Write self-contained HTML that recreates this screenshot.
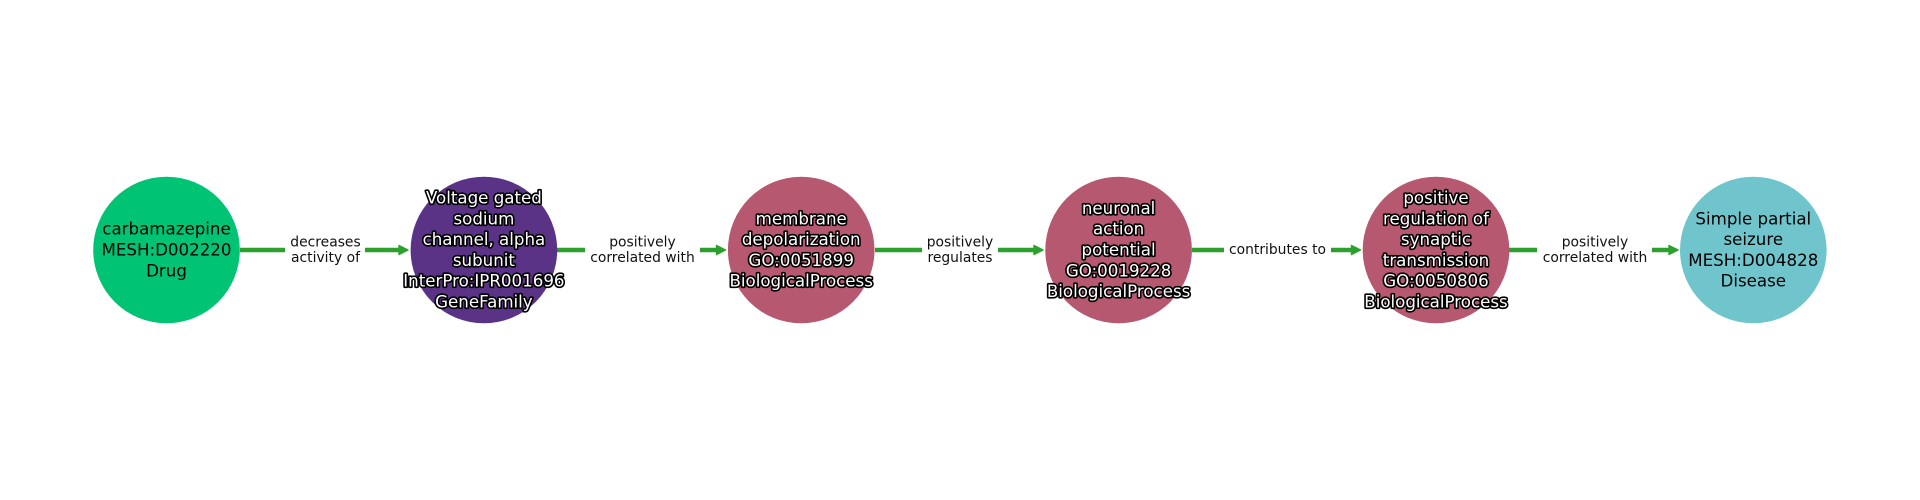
<!DOCTYPE html>
<html><head><meta charset="utf-8"><style>
html,body{margin:0;padding:0;background:#fff;width:1920px;height:500px;overflow:hidden}
svg{display:block}
text{font-family:"DejaVu Sans",sans-serif;text-anchor:middle}
.n{font-size:16.67px;fill:#000}
.o{font-size:16.67px;fill:#fff;stroke:#000;stroke-width:3.3px;paint-order:stroke;stroke-linejoin:round}
.e{font-size:13.89px;fill:#111}
.l{stroke:#2ca02c;stroke-width:4.4;fill:none}
.a{fill:#2ca02c;stroke:#2ca02c;stroke-width:1.4;stroke-linejoin:round}
</style></head><body>
<svg width="1920" height="500" viewBox="0 0 1920 500" xmlns="http://www.w3.org/2000/svg">
<rect width="1920" height="500" fill="#fff"/>
<path class="l" d="M240 250H285M365 250H400"/><path class="a" d="M399 245.5L408 250L399 254.5Z"/>
<path class="l" d="M557 250H585M700 250H717"/><path class="a" d="M716.5 245.5L725.5 250L716.5 254.5Z"/>
<path class="l" d="M875 250H922M998 250H1035"/><path class="a" d="M1034 245.5L1043 250L1034 254.5Z"/>
<path class="l" d="M1192 250H1224M1331 250H1352"/><path class="a" d="M1351.5 245.5L1360.5 250L1351.5 254.5Z"/>
<path class="l" d="M1509 250H1537M1652 250H1670"/><path class="a" d="M1669 245.5L1678 250L1669 254.5Z"/>
<circle cx="166.5" cy="250" r="73.3" fill="#00c473"/>
<circle cx="483.9" cy="250" r="73.3" fill="#5a3286"/>
<circle cx="801.2" cy="250" r="73.3" fill="#b65870"/>
<circle cx="1118.6" cy="250" r="73.3" fill="#b65870"/>
<circle cx="1436" cy="250" r="73.3" fill="#b65870"/>
<circle cx="1753.3" cy="250" r="73.3" fill="#70c5cc"/>
<text class="e" x="325.5" y="246.5">decreases</text><text class="e" x="325.5" y="262">activity of</text>
<text class="e" x="642.5" y="246.5">positively</text><text class="e" x="642.5" y="262">correlated with</text>
<text class="e" x="960" y="246.5">positively</text><text class="e" x="960" y="262">regulates</text>
<text class="e" x="1277.5" y="254">contributes to</text>
<text class="e" x="1595" y="246.5">positively</text><text class="e" x="1595" y="262">correlated with</text>
<text class="n" x="166.5" y="234.7">carbamazepine</text><text class="n" x="166.5" y="255.5">MESH:D002220</text><text class="n" x="166.5" y="276.3">Drug</text>
<text class="o" x="483.9" y="203.5">Voltage gated</text><text class="o" x="483.9" y="224.3">sodium</text><text class="o" x="483.9" y="245.1">channel, alpha</text><text class="o" x="483.9" y="265.9">subunit</text><text class="o" x="483.9" y="286.7">InterPro:IPR001696</text><text class="o" x="483.9" y="307.5">GeneFamily</text>
<text class="o" x="801.2" y="224.3">membrane</text><text class="o" x="801.2" y="245.1">depolarization</text><text class="o" x="801.2" y="265.9">GO:0051899</text><text class="o" x="801.2" y="286.7">BiologicalProcess</text>
<text class="o" x="1118.6" y="213.9">neuronal</text><text class="o" x="1118.6" y="234.7">action</text><text class="o" x="1118.6" y="255.5">potential</text><text class="o" x="1118.6" y="276.3">GO:0019228</text><text class="o" x="1118.6" y="297.1">BiologicalProcess</text>
<text class="o" x="1436" y="203.5">positive</text><text class="o" x="1436" y="224.3">regulation of</text><text class="o" x="1436" y="245.1">synaptic</text><text class="o" x="1436" y="265.9">transmission</text><text class="o" x="1436" y="286.7">GO:0050806</text><text class="o" x="1436" y="307.5">BiologicalProcess</text>
<text class="n" x="1753.3" y="224.3">Simple partial</text><text class="n" x="1753.3" y="245.1">seizure</text><text class="n" x="1753.3" y="265.9">MESH:D004828</text><text class="n" x="1753.3" y="286.7">Disease</text>
</svg>
</body></html>
